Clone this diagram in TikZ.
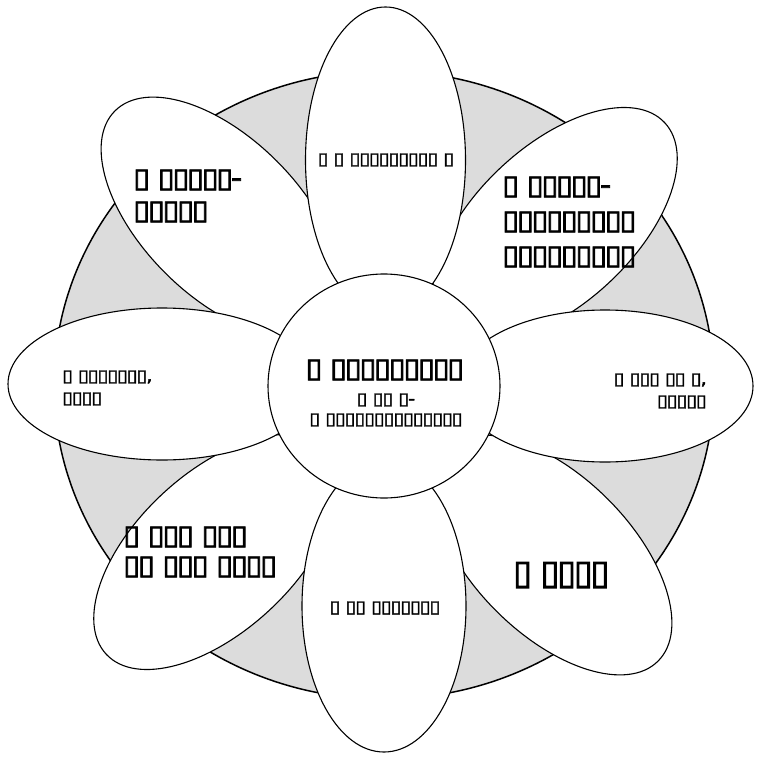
\documentclass[tikz,border=0pt]{standalone}
\usepackage{fontspec}
\newfontfamily\tf[FakeBold=3,FakeStretch=1.15,LetterSpace=-9]{DejaVu Sans}
\newfontfamily\tfh[FakeBold=3,FakeStretch=1.0,LetterSpace=-6]{DejaVu Sans}
\newfontfamily\tfs[FakeBold=2.5,FakeStretch=1.15,LetterSpace=-6]{DejaVu Sans}
\definecolor{ringgray}{HTML}{DCDCDC}
\tikzset{
  petal/.style={draw=black, fill=white, line width=1.1pt},
  ring/.style={draw=black, fill=ringgray, line width=1.5pt},
  hub/.style={draw=black, fill=white, line width=1.1pt},
  bigtxt/.style={inner sep=0pt, font=\tf\fontsize{27}{32}\selectfont},
  hugetxt/.style={inner sep=0pt, font=\tfh\fontsize{34}{32}\selectfont},
  smalltxt/.style={inner sep=0pt, font=\tfs\fontsize{17}{22}\selectfont},
}
\begin{document}
\begin{tikzpicture}[x=1pt,y=-1pt]
\useasboundingbox (0,0) rectangle (757,760);
% outer ring
\path[ring] (384,385) ellipse [x radius=330, y radius=314];
% diagonal petals
\path[petal, rotate around={-45:(221,217)}] (221,217) ellipse [x radius=150, y radius=79];
\path[petal, rotate around={43:(555,225)}] (555,225) ellipse [x radius=150, y radius=79];
\path[petal, rotate around={43:(216,552)}] (216,552) ellipse [x radius=150, y radius=79];
\path[petal, rotate around={-45:(552,555)}] (552,555) ellipse [x radius=150, y radius=79];
% axis petals
\path[petal] (385.5,160) ellipse [x radius=80, y radius=153];
\path[petal] (384,606) ellipse [x radius=82, y radius=146];
\path[petal] (162,384) ellipse [x radius=154, y radius=76];
\path[petal] (605,386) ellipse [x radius=148, y radius=76];
% hub
\path[hub] (384,386) ellipse [x radius=116, y radius=112];
% labels
\node[bigtxt, align=center] (hubtitle) at (385,370) {▯ ▯▯▯▯▯▯▯▯▯};
\node[smalltxt, align=center] (hubsub) at (386,410) {▯ ▯▯ ▯-\\[-2pt]▯ ▯▯▯▯▯▯▯▯▯▯▯▯▯▯};
\node[bigtxt, align=left, anchor=west] (ulabel) at (133,196) {▯ ▯▯▯▯▯-\\▯▯▯▯▯};
\node[smalltxt] (tlabel) at (386,160) {▯ ▯ ▯▯▯▯▯▯▯▯▯ ▯};
\node[bigtxt, align=left, anchor=west] (urlabel) at (502,222) {▯ ▯▯▯▯▯-\\[3pt]▯▯▯▯▯▯▯▯▯\\[3pt]▯▯▯▯▯▯▯▯▯};
\node[smalltxt, align=left, anchor=west] (llabel) at (62,388) {▯ ▯▯▯▯▯▯▯,\\▯▯▯▯};
\node[smalltxt, align=right, anchor=east] (rlabel) at (707,391) {▯ ▯▯▯ ▯▯ ▯,\\▯▯▯▯▯};
\node[bigtxt, align=left, anchor=west] (lllabel) at (123,552) {▯ ▯▯▯ ▯▯▯\\[-2pt]▯▯ ▯▯▯ ▯▯▯▯};
\node[smalltxt] (blabel) at (385,608) {▯ ▯▯ ▯▯▯▯▯▯▯};
\node[hugetxt, anchor=west] (lrlabel) at (513,575) {▯ ▯▯▯▯};
\end{tikzpicture}
\end{document}
